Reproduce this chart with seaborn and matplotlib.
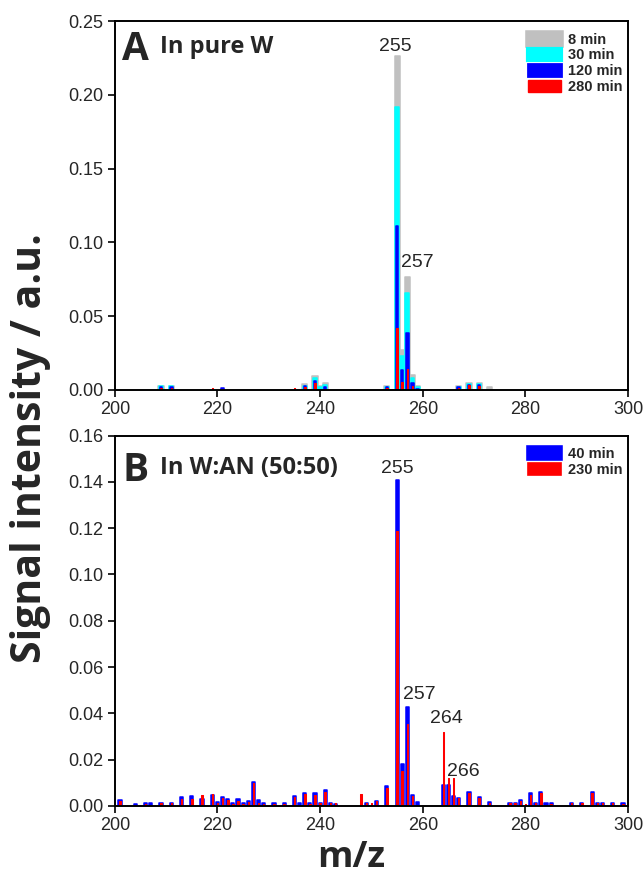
import numpy as np
import pandas as pd
import matplotlib
matplotlib.use("Agg")
import matplotlib.pyplot as plt
from matplotlib.patches import Patch
from matplotlib.ticker import FormatStrFormatter, MultipleLocator
import seaborn as sns

# ---------------- data ----------------
mz_A = [209, 211, 219, 221, 235, 237, 239, 240, 241, 253, 255, 256, 257, 258, 259, 267, 269, 271, 273]
A_8min = [0.003, 0.003, 0, 0, 0, 0.0038, 0.0095, 0.0025, 0.0045, 0.0027, 0.226, 0.0271, 0.0767, 0.0102, 0.0029, 0.0029, 0.0045, 0.0045, 0.0023]
A_30min = [0.0025, 0.0025, 0, 0, 0, 0.003, 0.0084, 0.0023, 0.0034, 0.0023, 0.192, 0.023, 0.0654, 0.0084, 0.0018, 0.0023, 0.0038, 0.0038, 0]
A_120min = [0.002, 0.002, 0, 0.0014, 0, 0.003, 0.0063, 0, 0.0023, 0.002, 0.111, 0.0135, 0.0384, 0.005, 0.001, 0.0023, 0.0036, 0.0034, 0]
A_280min = [0.0015, 0.0015, 0.0011, 0.001, 0.0016, 0.0023, 0.005, 0, 0, 0.0016, 0.042, 0.0056, 0.0142, 0.0027, 0, 0.0016, 0.0032, 0.003, 0]

mz_B = [201, 204, 206, 207, 209, 211, 213, 215, 217, 219,
        220, 221, 222, 223, 224, 225, 226, 227, 228, 229,
        231, 233, 235, 236, 237, 238, 239, 240, 241, 242,
        243, 248, 249, 250, 251, 253, 255, 256, 257, 258,
        259, 264, 265, 266, 267, 269, 271, 273, 277, 278,
        279, 280, 281, 282, 283, 284, 285, 289, 291, 293,
        294, 295, 297, 299]
B_40min = [0.0026, 0.001, 0.0012, 0.0012, 0.0014, 0.0014, 0.004, 0.0043, 0.0029, 0.0046,
           0.0019, 0.0039, 0.0029, 0.0013, 0.0029, 0.0012, 0.002, 0.0102, 0.0024, 0.0014,
           0.0014, 0.0014, 0.0042, 0.0012, 0.0055, 0.0012, 0.0058, 0.0014, 0.0068, 0.0014,
           0.0010, 0, 0.0013, 0, 0.0022, 0.0085, 0.141, 0.018, 0.0426, 0.0048,
           0.0019, 0.0089, 0.0089, 0.0043, 0.0036, 0.0062, 0.0037, 0.0016, 0.0014, 0.0014,
           0.0024, 0, 0.0056, 0.0014, 0.0062, 0.0014, 0.0012, 0.0014, 0.0014, 0.0062,
           0.0014, 0.0014, 0.0014, 0.0012]
B_230min = [0.0020, 0, 0.0008, 0, 0.0012, 0.0012, 0.003, 0.003, 0.0046, 0.005,
            0.0014, 0.0033, 0.0026, 0.001, 0.0023, 0.001, 0.0017, 0.0098, 0.0012, 0.001,
            0.001, 0.001, 0.0037, 0, 0.0052, 0.001, 0.0048, 0.0012, 0.006, 0.0012,
            0.0012, 0.005, 0.0012, 0.0015, 0.002, 0.0076, 0.1188, 0.0151, 0.0355, 0.0045,
            0, 0.0318, 0.012, 0.012, 0.0033, 0.0055, 0.0033, 0.0012, 0.0012, 0.0012,
            0.0022, 0.0009, 0.0048, 0.0012, 0.0055, 0, 0.001, 0.0012, 0.0012, 0.0058,
            0.0012, 0.0012, 0.0012, 0.0010]

labels_A = ["8 min", "30 min", "120 min", "280 min"]
labels_B = ["40 min", "230 min"]
peaks_A = ["255", "257"]
peaks_B = ["255", "257", "264", "266"]
x_ticks = [200, 220, 240, 260, 280, 300]

# ---------------- style ----------------
sns.set_style("ticks")
plt.rcParams["font.family"] = ["Liberation Sans", "DejaVu Sans"]
plt.rcParams["axes.linewidth"] = 1.4

fig = plt.figure(figsize=(6.44, 8.90), dpi=100)
axA = fig.add_axes([0.1783, 0.5618, 0.797, 0.4146])
axB = fig.add_axes([0.1783, 0.0944, 0.797, 0.4162])

def draw(ax, mz, vals, color, width, lw):
    df = pd.DataFrame({"mz": mz, "v": vals})
    df = df[df["v"] > 0]
    sns.barplot(data=df, x="mz", y="v", native_scale=True, color=color,
                saturation=1, width=width, errorbar=None, ax=ax,
                edgecolor=color, linewidth=lw, joinstyle="round")

colA = ["#C0C0C0", "#00FFFF", "#0000FF", "#FF0000"]
widA = [1.0, 0.76, 0.48, 0.3]
lwsA = [1.1, 1.1, 1.1, 0.75]
for vals, c, w, l in zip([A_8min, A_30min, A_120min, A_280min], colA, widA, lwsA):
    draw(axA, mz_A, vals, c, w, l)

colB = ["#0000FF", "#FF0000"]
widB = [0.62, 0.3]
lwsB = [1.1, 0.75]
for vals, c, w, l in zip([B_40min, B_230min], colB, widB, lwsB):
    draw(axB, mz_B, vals, c, w, l)

tick_font = ["Liberation Sans", "DejaVu Sans"]
for ax, ymax, step in [(axA, 0.25, 0.05), (axB, 0.16, 0.02)]:
    ax.set_xlim(200, 300)
    ax.set_ylim(0, ymax)
    ax.set_xticks(x_ticks)
    ax.yaxis.set_major_locator(MultipleLocator(step))
    ax.yaxis.set_major_formatter(FormatStrFormatter("%.2f"))
    ax.set_xlabel("")
    ax.set_ylabel("")
    ax.tick_params(direction="out", length=5, width=1.4, labelsize=13, pad=3)
    for lab in ax.get_xticklabels() + ax.get_yticklabels():
        lab.set_family(tick_font)
    for s in ax.spines.values():
        s.set_visible(True)
        s.set_color("black")

# peak labels
pk = dict(ha="center", va="baseline", fontsize=14, family=tick_font)
axA.text(254.6, 0.230, peaks_A[0], **pk)
axA.text(259.0, 0.0833, peaks_A[1], **pk)
pos_B = [(255.0, 0.1438), (259.4, 0.0462), (264.6, 0.0359), (267.9, 0.0130)]
for (x, y), t in zip(pos_B, peaks_B):
    axB.text(x, y, t, **pk)

# panel titles
tf = dict(family=["Open Sans", "DejaVu Sans"], weight="bold")
axA.text(0.014, 0.894, "A", transform=axA.transAxes, fontsize=28, va="baseline", **tf)
axA.text(0.088, 0.913, "In pure W", transform=axA.transAxes, fontsize=17, va="baseline", **tf)
axB.text(0.014, 0.878, "B", transform=axB.transAxes, fontsize=28, va="baseline", **tf)
axB.text(0.088, 0.897, "In W:AN (50:50)", transform=axB.transAxes, fontsize=17, va="baseline", **tf)

# legends
leg_kw = dict(loc="upper right", bbox_to_anchor=(1.0, 0.984), frameon=False,
              prop=dict(family="Liberation Sans", weight="bold", size=10.5),
              handlelength=2.3, handleheight=0.85, labelspacing=0.12,
              handletextpad=0.45, borderaxespad=0.4, borderpad=0.0)
lwA = [4.0, 3.0, 2.0, 1.0]
hA = [Patch(facecolor=c, edgecolor=c, linewidth=l, joinstyle="round") for c, l in zip(colA, lwA)]
axA.legend(hA, labels_A, **leg_kw)
lwB = [2.6, 1.2]
hB = [Patch(facecolor=c, edgecolor=c, linewidth=l, joinstyle="round") for c, l in zip(colB, lwB)]
axB.legend(hB, labels_B, **leg_kw)

# axis labels
fig.text(0.047, 0.497, "Signal intensity / a.u.", rotation=90, ha="center", va="center",
         fontsize=29.5, **tf)
fig.text(0.545, 0.036, "m/z", ha="center", va="center", fontsize=26, **tf)

fig.savefig("out.png", dpi=100)
